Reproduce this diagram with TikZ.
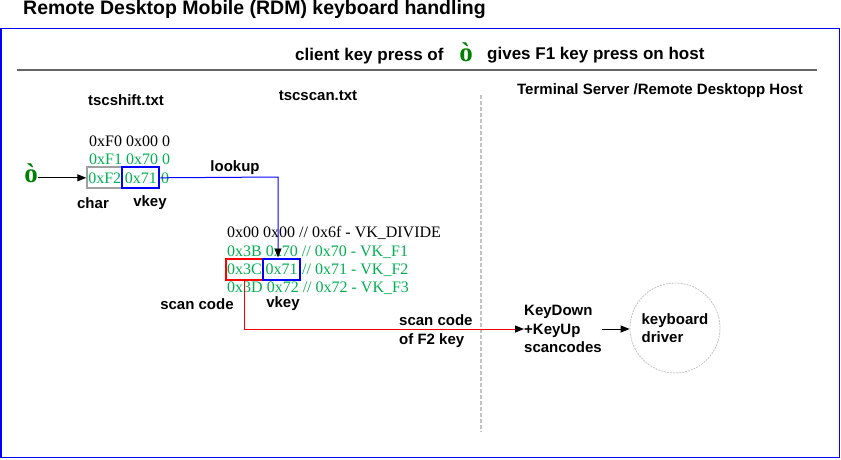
\documentclass[tikz,border=0pt]{standalone}
\usepackage{fontspec}
\setmainfont{Liberation Serif}
\setsansfont{Liberation Sans}
\usetikzlibrary{arrows.meta}
\definecolor{tgreen}{RGB}{0,176,80}
\definecolor{dgreen}{RGB}{0,128,0}
\definecolor{fgray}{RGB}{160,160,160}
\definecolor{lgray}{RGB}{195,195,195}
\definecolor{hgray}{RGB}{100,100,100}
\tikzset{
  lbl/.style={font=\sffamily\bfseries\fontsize{15}{18.5}\selectfont, inner sep=0pt},
  hdr/.style={font=\sffamily\bfseries\fontsize{17}{20}\selectfont, inner sep=0pt},
  tbl/.style={font=\fontsize{16}{18}\selectfont, inner sep=0pt},
  cell/.style={tbl, text=tgreen, draw, line width=2pt, minimum height=21pt, inner sep=0pt},
  tip/.style={-{Triangle[length=9pt,width=7pt,color=black]}},
  bigo/.style={font=\bfseries\fontsize{27}{27}\selectfont, text=dgreen, inner sep=0pt}
}
\begin{document}
\begin{tikzpicture}[x=1pt,y=-1pt]
\useasboundingbox (0,0) rectangle (841,459);
% title and frame
\node[font=\sffamily\bfseries\fontsize{19.5}{22}\selectfont, inner sep=0pt, anchor=west] (title) at (23,9.5) {Remote Desktop Mobile (RDM) keyboard handling};
\draw[blue, line width=1.5pt] (1,28.5) rectangle (839.5,457.5);
\draw[hgray, line width=1.5pt] (17,70) -- (817,70);
% header
\node[hdr, anchor=west] (h1) at (295,56) {client key press of};
\node[bigo] (hob) at (466,52) {ò};
\node[hdr, anchor=west] (h2) at (487,55) {gives F1 key press on host};
\node[lbl] (f1) at (126,100) {tscshift.txt};
\node[lbl] (f2) at (318,96) {tscscan.txt};
\node[lbl] (f3) at (660,91) {Terminal Server /Remote Desktopp Host};
% separator
\coordinate (sepT) at (481,95);
\coordinate (sepB) at (481,432);
\draw[lgray, line width=1.5pt, dash pattern=on 4pt off 2pt] (sepT) -- (sepB);
% table 1
\node[tbl, anchor=base west] (t1r1) at (89,146.5) {0xF0 0x00 0};
\node[tbl, anchor=base west, text=tgreen] (t1r2) at (89,164.5) {0xF1 0x70 0};
\node[cell, draw=fgray, minimum width=35pt] (g) at (104.8,177.8) {0xF2};
\node[cell, draw=blue, minimum width=37pt] (v1) at (140.8,177.8) {0x71};
\node[tbl, anchor=base west, text=tgreen] (t1r3) at (161,183) {0};
\node[bigo] (oleft) at (31,173) {ò};
\draw[tip, line width=1pt] (oleft.east |- g.west) -- (g.west);
\node[lbl] (char) at (93,203) {char};
\node[lbl] (vk1) at (150,203) {vkey};
\node[lbl] (lookup) at (235,168) {lookup};
% table 2
\node[tbl, anchor=base west] (t2r1) at (227,237.3) {0x00 0x00 // 0x6f - VK\_DIVIDE};
\node[tbl, anchor=base west, text=tgreen] (t2r2) at (227,256.3) {0x3B 0x70 // 0x70 - VK\_F1};
\node[cell, draw=red, minimum width=37pt] (sc) at (244.5,269) {0x3C};
\node[cell, draw=blue, minimum width=37pt] (v2) at (281.5,269) {0x71};
\node[tbl, anchor=base west, text=tgreen] (t2r3) at (302,274.5) {// 0x71 - VK\_F2};
\node[tbl, anchor=base west, text=tgreen] (t2r4) at (227,292.3) {0x3D 0x72 // 0x72 - VK\_F3};
\node[lbl] (sclbl) at (197,304) {scan code};
\node[lbl] (vk2) at (283,304) {vkey};
% lookup connector
\coordinate (lk) at (278,177);
\draw[blue, line width=1pt, tip] (v1.east) -- (lk) -- (lk |- v2.north);
% host side
\node[lbl, align=left, anchor=west] (kd) at (524,329) {KeyDown\\+KeyUp\\scancodes};
\node[lbl, align=left, anchor=west] (scf2) at (399,331) {scan code\\of F2 key};
\node[circle, draw=lgray, dash pattern=on 2pt off 1pt, line width=0.8pt, minimum size=90pt, inner sep=0pt] (drv) at (675,328) {};
\node[lbl, align=left] (drvt) at (drv.center) {keyboard\\driver};
\draw[red, line width=1pt, tip] (sc.south) |- (kd.west);
\draw[line width=1pt, tip] (kd.east) -- (kd.east -| drv.west);
\end{tikzpicture}
\end{document}
